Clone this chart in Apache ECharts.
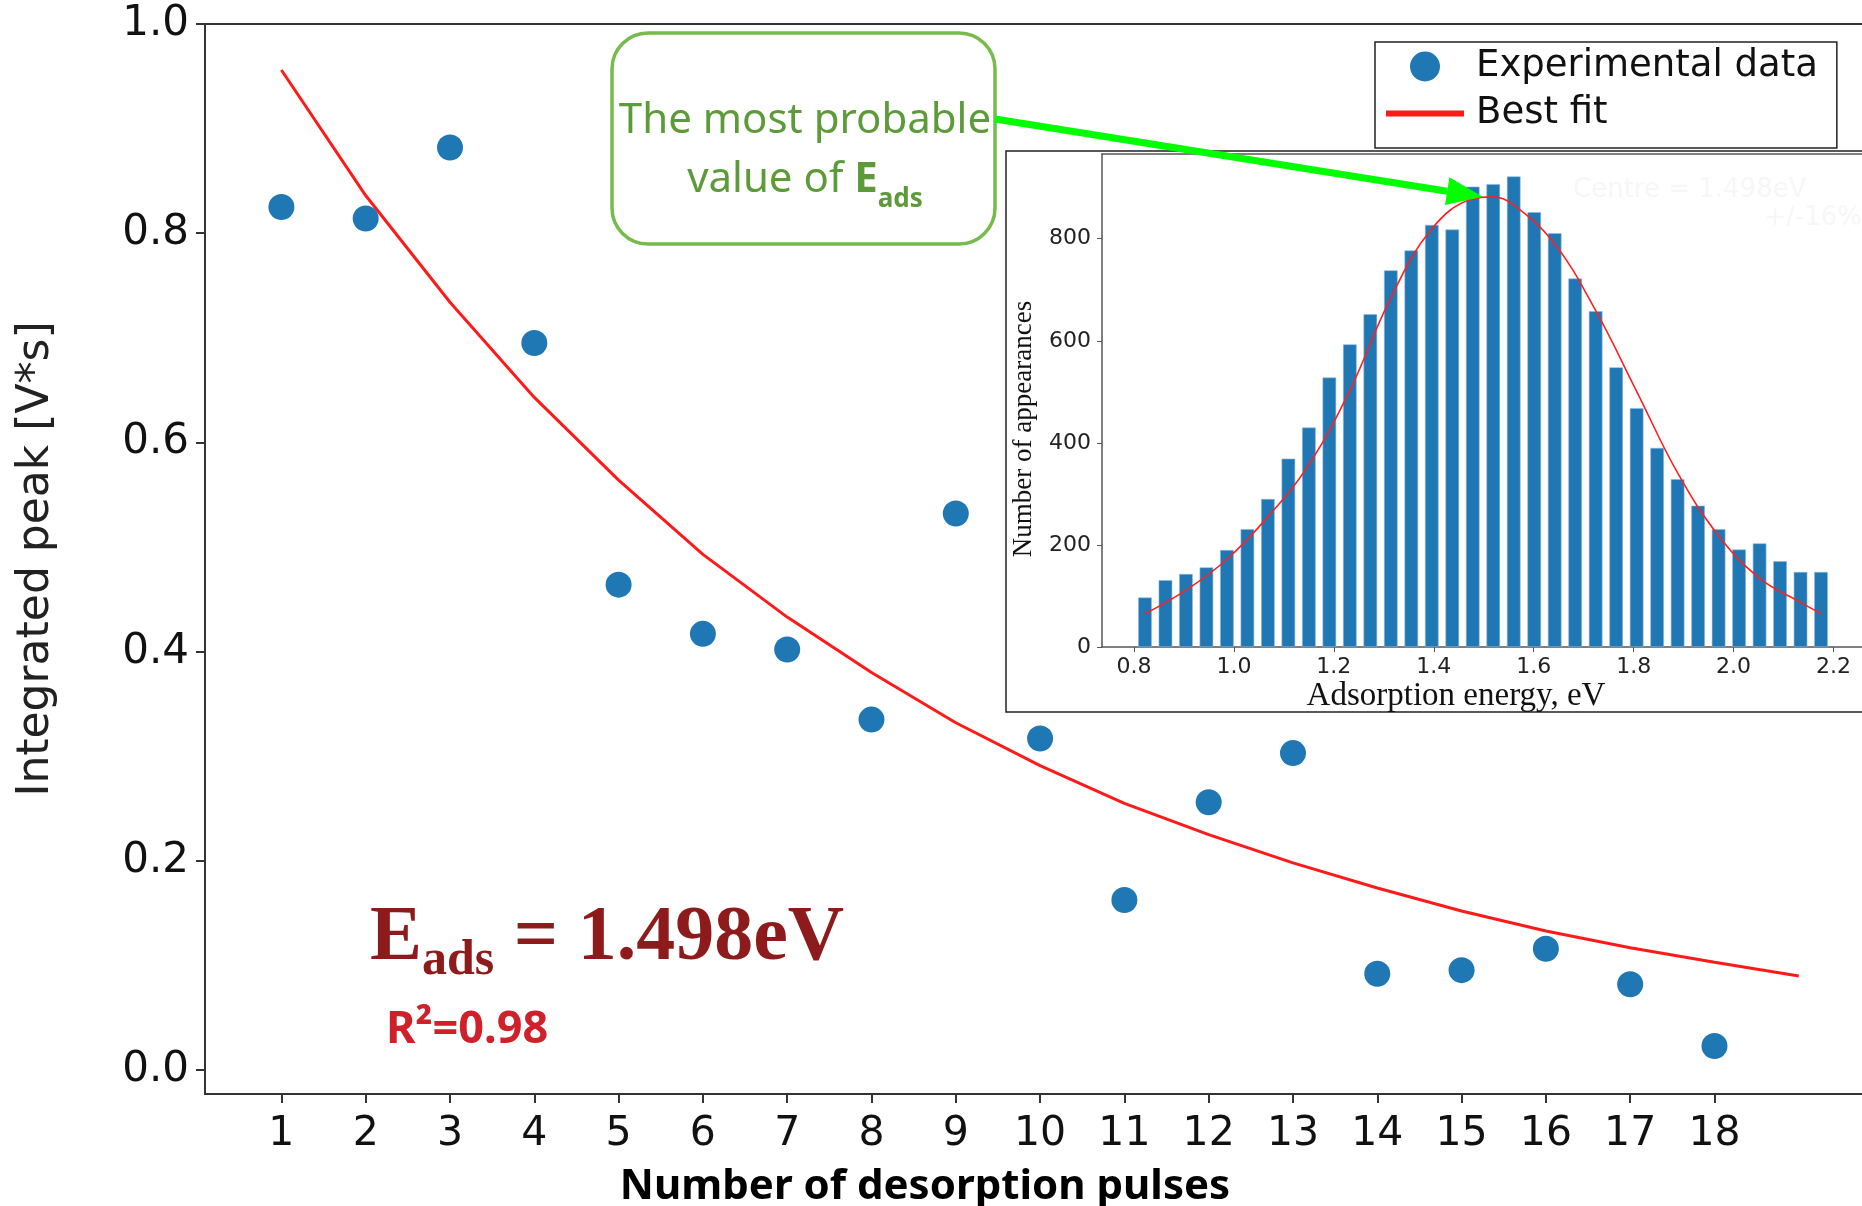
<!DOCTYPE html>
<html><head><meta charset="utf-8">
<script src="https://cdn.jsdelivr.net/npm/echarts@6/dist/echarts.min.js"></script>
<style>html,body{margin:0;padding:0;background:#fff}#c{width:1862px;height:1206px}</style>
</head><body><div id="c"></div>
<script>
// ---- main chart data ----
const pulses = [1,2,3,4,5,6,7,8,9,10,11,12,13,14,15,16,17,18];
const peakIntegral = [0.825,0.814,0.882,0.695,0.464,0.417,0.402,0.335,0.532,0.317,0.1625,0.256,0.303,0.092,0.0955,0.116,0.082,0.023];
const fitPulses = [1,2,3,4,5,6,7,8,9,10,11,12,13,14,15,16,17,18,19];
const fitValues = [0.956,0.836,0.734,0.643,0.564,0.493,0.433,0.380,0.332,0.291,0.255,0.225,0.198,0.174,0.152,0.133,0.117,0.103,0.090];
const mainYTicks = [0,0.2,0.4,0.6,0.8,1.0];

// ---- inset histogram data ----
const energyBins = [0.822,0.863,0.904,0.945,0.986,1.027,1.068,1.109,1.150,1.191,1.232,1.273,1.314,1.355,1.396,1.437,1.478,1.519,1.560,1.601,1.642,1.683,1.724,1.765,1.806,1.847,1.888,1.929,1.970,2.011,2.052,2.093,2.134,2.175];
const appearances = [97,131,143,156,190,231,290,369,430,528,593,652,738,777,827,818,902,907,922,852,811,722,658,548,468,390,329,277,231,191,203,168,147,147];
const gaussEnergy = [0.822,0.905,0.985,1.067,1.149,1.231,1.313,1.394,1.477,1.518,1.559,1.641,1.723,1.806,1.888,1.970,2.053,2.135,2.176];
const gaussCount = [65,112,171,254,356,501,682,817,878,882,867,791,661,501,341,218,134,87,65];
const insetXTicks = [0.8,1.0,1.2,1.4,1.6,1.8,2.0,2.2];
const insetYTicks = [0,200,400,600,800];
const peakPoint = [1.498, 882];

const chart = echarts.init(document.getElementById('c'), null, {renderer:'canvas'});
const axisCol = '#333';
const insetAxisCol = '#555';

const option = {
  backgroundColor: '#ffffff',
  animation: false,
  grid: [
    {left:205, top:24, right:0, bottom:112},
    {left:1102, top:154, right:0, height:493}
  ],
  xAxis: [
    {type:'value', gridIndex:0, min:0.0937, max:19.75, position:'bottom',
     axisLine:{show:true, onZero:false, lineStyle:{color:axisCol, width:2}},
     axisTick:{show:true, length:9, lineStyle:{color:axisCol, width:2}, customValues:pulses},
     axisLabel:{customValues:pulses, fontSize:41, fontFamily:'DejaVu Sans', color:'#111', margin:20},
     splitLine:{show:false}},
    {type:'value', gridIndex:1, min:0.736, max:2.257, position:'bottom',
     axisLine:{show:true, onZero:false, lineStyle:{color:insetAxisCol, width:1.5}},
     axisTick:{show:true, length:5, lineStyle:{color:insetAxisCol, width:1}, customValues:insetXTicks},
     axisLabel:{customValues:insetXTicks, fontSize:22, fontFamily:'DejaVu Sans', color:'#222', margin:9, formatter:v=>v.toFixed(1)},
     splitLine:{show:false}},
    // top spines
    {type:'value', gridIndex:0, min:0.0937, max:19.75, position:'top',
     axisLine:{show:true, onZero:false, lineStyle:{color:axisCol, width:2}},
     axisTick:{show:false}, axisLabel:{show:false}, splitLine:{show:false}},
    {type:'value', gridIndex:1, min:0.736, max:2.257, position:'top',
     axisLine:{show:true, onZero:false, lineStyle:{color:insetAxisCol, width:1.5}},
     axisTick:{show:false}, axisLabel:{show:false}, splitLine:{show:false}}
  ],
  yAxis: [
    {type:'value', gridIndex:0, min:-0.0229, max:1.0,
     name:'Integrated peak [V*s]', nameLocation:'middle', nameRotate:90, nameGap:146,
     nameTextStyle:{fontSize:44, fontFamily:'DejaVu Sans', color:'#222'},
     axisLine:{show:true, onZero:false, lineStyle:{color:axisCol, width:2}},
     axisTick:{show:true, length:9, lineStyle:{color:axisCol, width:2}, customValues:mainYTicks},
     axisLabel:{customValues:mainYTicks, fontSize:42, fontFamily:'DejaVu Sans', color:'#111', margin:16, formatter:v=>v.toFixed(1)},
     splitLine:{show:false}},
    {type:'value', gridIndex:1, min:0, max:966,
     axisLine:{show:true, onZero:false, lineStyle:{color:insetAxisCol, width:1.5}},
     axisTick:{show:true, length:5, lineStyle:{color:insetAxisCol, width:1}, customValues:insetYTicks},
     axisLabel:{customValues:insetYTicks, fontSize:22, fontFamily:'DejaVu Sans', color:'#222', margin:11},
     splitLine:{show:false}}
  ],
  legend: {
    show:true, orient:'vertical', left:1375, top:42, selectedMode:false,
    itemWidth:78, itemHeight:30, itemGap:10, padding:[6,19,16,11],
    borderColor:'#222', borderWidth:1.5, borderRadius:0, backgroundColor:'#fff',
    textStyle:{fontSize:37, fontFamily:'DejaVu Sans', color:'#111', padding:[0,0,0,7]},
    data:[
      {name:'Experimental data', icon:'circle'},
      {name:'Best fit', icon:'path://M0,0H78V6H0Z', itemStyle:{color:'#ff1a1a'}}
    ]
  },
  series: [
    {name:'Experimental data', type:'scatter', xAxisIndex:0, yAxisIndex:0,
     symbol:'circle', symbolSize:26, itemStyle:{color:'#1f77b4', opacity:1}, z:4,
     data: pulses.map((p,i)=>[p, peakIntegral[i]])},
    {name:'Best fit', type:'line', xAxisIndex:0, yAxisIndex:0, symbol:'none', smooth:false,
     lineStyle:{color:'#ff1a1a', width:3}, itemStyle:{color:'#ff1a1a'}, z:3,
     data: fitPulses.map((p,i)=>[p, fitValues[i]])},
    {name:'Histogram', type:'bar', xAxisIndex:1, yAxisIndex:1, barWidth:13.6,
     itemStyle:{color:'#1f77b4', borderColor:'#8fb8da', borderWidth:0.6}, z:2,
     data: energyBins.map((e,i)=>[e, appearances[i]])},
    {name:'Gaussian fit', type:'line', xAxisIndex:1, yAxisIndex:1, symbol:'none', smooth:0.4,
     lineStyle:{color:'#ff2020', width:1.6}, z:3,
     data: gaussEnergy.map((e,i)=>[e, gaussCount[i]])}
  ],
  graphic: []
};
chart.setOption(option);

// annotations
const boxX = 612, boxY = 33, boxW = 383, boxH = 211;
const start = [boxX + boxW, 119];
const tip = chart.convertToPixel({gridIndex:1}, peakPoint);
const dx = tip[0]-start[0], dy = tip[1]-start[1];
const len = Math.sqrt(dx*dx+dy*dy);
const ux = dx/len, uy = dy/len;
const headLen = 36, headHalf = 14;
const base = [tip[0]-ux*headLen, tip[1]-uy*headLen];
const green = '#00ff00';
const annGreen = '#5d9b3a';

const graphics = [
  {type:'rect', z:-1, shape:{x:1006, y:151, width:900, height:561}, style:{fill:'#fff', stroke:'#222', lineWidth:1.5}},
  {type:'text', z:-1, x:1573, y:190, style:{text:'Centre = 1.498eV', fontSize:26, fontFamily:'DejaVu Sans', fill:'#f7f7f7', align:'left', verticalAlign:'middle'}},
  {type:'text', z:-1, x:1862, y:218, style:{text:'+/-16%', fontSize:26, fontFamily:'DejaVu Sans', fill:'#f7f7f7', align:'right', verticalAlign:'middle'}},
  {type:'text', z:10, x:1024, y:429, rotation:Math.PI/2, style:{text:'Number of appearances', fontSize:27, fontFamily:'Liberation Serif', fill:'#111', align:'center', verticalAlign:'middle'}},
  {type:'text', z:10, x:1456, y:696, style:{text:'Adsorption energy, eV', fontSize:33, fontFamily:'Liberation Serif', fill:'#111', align:'center', verticalAlign:'middle'}},
  {type:'text', z:10, x:925, y:1187, style:{text:'Number of desorption pulses', fontSize:42, fontWeight:'bold', fontFamily:'Noto Sans', fill:'#000', align:'center', verticalAlign:'middle'}},
  {type:'rect', z:5, shape:{x:boxX, y:boxY, width:boxW, height:boxH, r:36}, style:{fill:'#fff', stroke:'#76bb4b', lineWidth:3.5}},
  {type:'text', z:6, x:805, y:121, style:{text:'The most probable', fontSize:42, fontFamily:'Noto Sans', fill:annGreen, align:'center', verticalAlign:'middle'}},
  {type:'text', z:6, x:805, y:180, style:{
    text:'{n|value of }{b|E}{s|ads}', align:'center', verticalAlign:'middle',
    rich:{
      n:{fontSize:42, fontFamily:'Noto Sans', fill:annGreen, lineHeight:66, verticalAlign:'middle'},
      b:{fontSize:42, fontFamily:'Noto Sans', fontWeight:'bold', fill:annGreen, lineHeight:66, verticalAlign:'middle'},
      s:{fontSize:26, fontFamily:'Noto Sans', fontWeight:'bold', fill:annGreen, lineHeight:26, verticalAlign:'bottom'}
    }}},
  {type:'text', z:6, x:370, y:939, style:{
    text:'{b|E}{s|ads}{b| = 1.498eV}', align:'left', verticalAlign:'middle',
    rich:{
      b:{fontSize:78, fontFamily:'Liberation Serif', fontWeight:'bold', fill:'#8e1b1b', lineHeight:94, verticalAlign:'middle'},
      s:{fontSize:50, fontFamily:'Liberation Serif', fontWeight:'bold', fill:'#8e1b1b', lineHeight:50, verticalAlign:'bottom'}
    }}},
  {type:'text', z:6, x:386, y:1030, style:{text:'R\u00b2=0.98', fontSize:45, fontFamily:'Noto Sans', fontWeight:'bold', fill:'#d0202a', align:'left', verticalAlign:'middle'}},
  {type:'line', z:20, shape:{x1:start[0], y1:start[1], x2:base[0], y2:base[1]}, style:{stroke:green, lineWidth:7}},
  {type:'polygon', z:20, shape:{points:[tip, [base[0]-uy*headHalf, base[1]+ux*headHalf], [base[0]+uy*headHalf, base[1]-ux*headHalf]]}, style:{fill:green}}
];
chart.setOption({graphic: graphics});
</script></body></html>
